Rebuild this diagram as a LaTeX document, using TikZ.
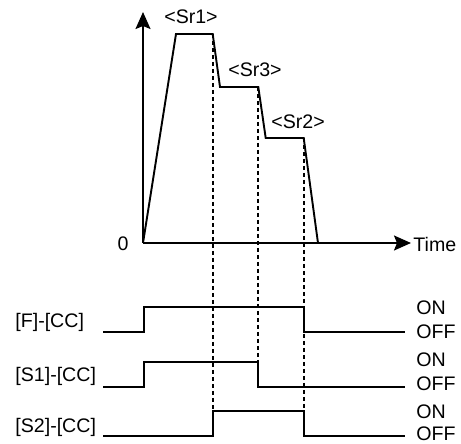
\documentclass[tikz,border=0pt]{standalone}
\usepackage{fontspec}
\setmainfont{Liberation Sans}
\usetikzlibrary{arrows.meta,positioning}
\tikzset{
  sig/.style={line width=0.95pt,line join=miter},
  guide/.style={line width=0.9pt,dash pattern=on 2.2pt off 1.3pt},
  axis/.style={line width=0.95pt,-{Stealth[length=8.5pt,width=7.5pt,inset=1.5pt]}},
  lbl/.style={font=\fontsize{9.8}{11}\selectfont,inner sep=0pt},
}
\begin{document}
\begin{tikzpicture}[x=0.5pt,y=-0.5pt]
    \useasboundingbox (0,0) rectangle (461,444);
    %% Axes
    \coordinate (o)    at (143,243);
    \coordinate (ytop) at (143,12);
    \coordinate (xend) at (411,243);
    \draw[axis] (o)--(ytop);
    \draw[axis] (o)--(xend);
    \node[lbl,anchor=east] (zero) at (129,244) {0};
    \node[lbl,anchor=west] (time) at (413,244) {Time};
    %% Speed profile
    \coordinate (p1) at (176,34);
    \coordinate (p2) at (212.7,34);
    \coordinate (p3) at (220,87);
    \coordinate (p4) at (258.3,87);
    \coordinate (p5) at (265.7,138);
    \coordinate (p6) at (303.7,138);
    \coordinate (p7) at (318,243);
    \draw[sig] (o)--(p1)--(p2)--(p3)--(p4)--(p5)--(p6)--(p7);
    \node[lbl] (sr1) at (191,17)  {<Sr1>};
    \node[lbl] (sr3) at (255,70)  {<Sr3>};
    \node[lbl] (sr2) at (298,122) {<Sr2>};
    %% Signal levels
    \coordinate (fhi)  at (0,306.7);
    \coordinate (flo)  at (0,331.7);
    \coordinate (s1hi) at (0,361.7);
    \coordinate (s1lo) at (0,386.7);
    \coordinate (s2hi) at (0,410.7);
    \coordinate (s2lo) at (0,436);
    %% Signals
    \draw[sig] (103,331.7)--(144.3,331.7)--(144.3,306.7)--(303.7,306.7)--(303.7,331.7)--(405,331.7);
    \draw[sig] (103,386.7)--(144.3,386.7)--(144.3,361.7)--(258.3,361.7)--(258.3,386.7)--(405,386.7);
    \draw[sig] (103,436)--(212.7,436)--(212.7,410.7)--(303.7,410.7)--(303.7,436)--(405,436);
    %% Guides
    \draw[guide] (p2)--(p2 |- s2hi);
    \draw[guide] (p4)--(p4 |- s1hi);
    \draw[guide] (p6)--(p6 |- s2hi);
    %% Labels
    \node[lbl,anchor=west] (fcc)  at (15,322) {[F]-[CC]};
    \node[lbl,anchor=west] (s1cc) at (15,376) {[S1]-[CC]};
    \node[lbl,anchor=west] (s2cc) at (15,427) {[S2]-[CC]};
    \node[lbl,anchor=west] (fon)   at (416,308) {ON};
    \node[lbl,anchor=west] (foff)  at (416,332) {OFF};
    \node[lbl,anchor=west] (s1on)  at (416,360) {ON};
    \node[lbl,anchor=west] (s1off) at (416,384) {OFF};
    \node[lbl,anchor=west] (s2on)  at (416,412) {ON};
    \node[lbl,anchor=west] (s2off) at (416,434) {OFF};
  \end{tikzpicture}
\end{document}
